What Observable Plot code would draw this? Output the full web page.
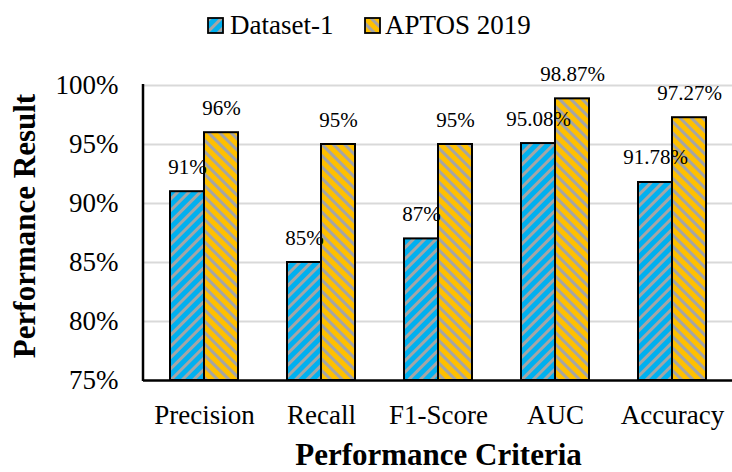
<!DOCTYPE html>
<html>
<head>
<meta charset="utf-8">
<script src="https://cdn.jsdelivr.net/npm/d3@7"></script>
<script src="https://cdn.jsdelivr.net/npm/@observablehq/plot@0.6"></script>
<style>
  html, body { margin: 0; padding: 0; background: #fff; }
  #chart { width: 732px; height: 472px; }
</style>
</head>
<body>
<div id="chart"></div>
<script>
const categories = ["Precision", "Recall", "F1-Score", "AUC", "Accuracy"];
const seriesNames = ["Dataset-1", "APTOS 2019"];
const dataset1 = [91, 85, 87, 95.08, 91.78];
const aptos2019 = [96, 95, 95, 98.87, 97.27];
const yTicks = [75, 80, 85, 90, 95, 100];
const xTitle = "Performance Criteria";
const yTitle = "Performance Result";

const rows1 = categories.map((c, i) => ({category: c, series: seriesNames[0], value: dataset1[i]}));
const rows2 = categories.map((c, i) => ({category: c, series: seriesNames[1], value: aptos2019[i]}));

const FONT = "'Liberation Serif', 'Times New Roman', serif";
const W = 732, H = 472, ML = 143, MR = 0, MT = 85, MB = 92;
const yMin = yTicks[0];

const plot = Plot.plot({
  width: W, height: H,
  marginLeft: ML, marginRight: MR, marginTop: MT, marginBottom: MB,
  style: {fontFamily: FONT, color: "#000", background: "#fff"},
  x: {domain: categories, paddingInner: 0.712, paddingOuter: 0.356},
  y: {domain: [yTicks[0], yTicks[yTicks.length - 1]]},
  marks: [
    Plot.gridY({ticks: yTicks.slice(1), stroke: "#d9d9d9", strokeOpacity: 1, strokeWidth: 2}),
    Plot.barY(rows1, {x: "category", y1: yMin, y2: "value", dx: -17, fill: "url(#pat-d1)", stroke: "#000", strokeWidth: 2}),
    Plot.barY(rows2, {x: "category", y1: yMin, y2: "value", dx: 17, fill: "url(#pat-aptos)", stroke: "#000", strokeWidth: 2}),
    Plot.ruleY([yMin], {stroke: "#000", strokeWidth: 2.5}),
    Plot.text(rows1, {x: "category", y: "value", dx: -17, dy: -18, text: d => `${d.value}%`, lineAnchor: "bottom", fontSize: 21, fill: "#000"}),
    Plot.text(rows2, {x: "category", y: "value", dx: 17, dy: -18, text: d => `${d.value}%`, lineAnchor: "bottom", fontSize: 21, fill: "#000"}),
    Plot.axisX({tickSize: 0, tickPadding: 24, fontSize: 27, label: null}),
    Plot.axisY({ticks: yTicks, tickFormat: d => `${d}%`, tickSize: 0, tickPadding: 25, fontSize: 27, label: null})
  ]
});

document.getElementById("chart").appendChild(plot);

// patterns, axis line, titles, legend
const NS = "http://www.w3.org/2000/svg";
function el(name, attrs, parent) {
  const e = document.createElementNS(NS, name);
  for (const k in attrs) e.setAttribute(k, attrs[k]);
  if (parent) parent.appendChild(e);
  return e;
}
const svg = plot.tagName.toLowerCase() === "svg" ? plot : plot.querySelector("svg");
const defs = el("defs", {});
svg.insertBefore(defs, svg.firstChild);
function pattern(id, color, angle) {
  const p = el("pattern", {id, width: 8, height: 8, patternUnits: "userSpaceOnUse", patternTransform: `rotate(${angle})`}, defs);
  el("rect", {x: 0, y: 0, width: 8, height: 8, fill: color}, p);
  el("rect", {x: 0, y: 0, width: 3, height: 8, fill: "#a5a5a5"}, p);
}
pattern("pat-d1", "#00b0f0", 45);
pattern("pat-aptos", "#ffc000", -45);

const g = el("g", {"font-family": FONT, fill: "#000", "text-anchor": "start"}, svg);
el("line", {x1: ML, x2: ML, y1: MT - 1, y2: H - MB + 1, stroke: "#000", "stroke-width": 2.5}, g);

const xt = el("text", {x: (ML + W - MR) / 2 + 1, y: 465, "text-anchor": "middle", "font-size": 31, "font-weight": "bold"}, g);
xt.textContent = xTitle;
const yt = el("text", {transform: `translate(35,226) rotate(-90)`, "text-anchor": "middle", "font-size": 31, "font-weight": "bold"}, g);
yt.textContent = yTitle;

// legend
const legendPos = [{sx: 208, tx: 230}, {sx: 365, tx: 385}];
const fills = ["url(#pat-d1)", "url(#pat-aptos)"];
seriesNames.forEach((name, i) => {
  el("rect", {x: legendPos[i].sx, y: 18, width: 15, height: 15, fill: fills[i], stroke: "#000", "stroke-width": 1.8}, g);
  const t = el("text", {x: legendPos[i].tx, y: 34, "font-size": 27, "text-anchor": "start"}, g);
  t.textContent = name;
});
</script>
</body>
</html>
